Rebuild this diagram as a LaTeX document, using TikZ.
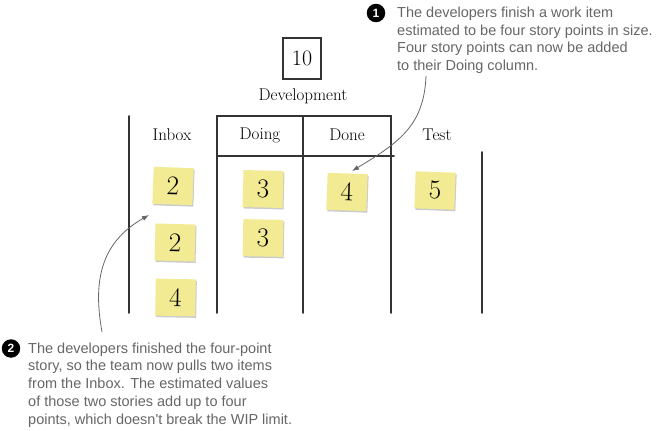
\documentclass[tikz,border=0pt]{standalone}
\usepackage{fontspec}
\newfontfamily\notefont{Liberation Sans}
\usetikzlibrary{arrows.meta,shadows}
\definecolor{ink}{HTML}{333333}
\definecolor{note}{HTML}{F2EB93}
\definecolor{annot}{HTML}{666666}
\begin{document}
\begin{tikzpicture}[x=1pt,y=-1pt,
 board/.style={draw=ink, line width=1.7pt, line cap=round},
 colhead/.style={font=\fontsize{17}{19}\selectfont, text=black, inner sep=0pt},
 sticky/.style={fill=note, minimum width=40pt, minimum height=37pt, inner sep=0pt,
   font=\fontsize{27}{29}\selectfont,
   drop shadow={shadow xshift=1pt, shadow yshift=-1.5pt, fill=black!45, opacity=0.45}},
 callout/.style={draw=annot, line width=0.8pt, -{Latex[length=7pt,width=5pt]}},
 num/.style={circle, fill=black, text=white, inner sep=0pt, minimum size=18.5pt,
   font=\notefont\bfseries\fontsize{12}{12}\selectfont},
 annottext/.style={text=annot, font=\notefont\fontsize{14.5}{17.8}\selectfont,
   align=left, anchor=north west, inner sep=0pt}
]
\useasboundingbox (0,0) rectangle (657,431);

% WIP limit box and title
\node[draw=ink, line width=1.7pt, minimum width=38pt, minimum height=41pt, inner sep=0pt,
  font=\fontsize{22}{24}\selectfont] (limit) at (302,58.5) {10};
\node[colhead] (dev) at (303,96) {Development};

% board lines
\coordinate (inboxT) at (129,116);
\coordinate (inboxB) at (129,313);
\coordinate (dlT) at (217,116);
\coordinate (dlB) at (217,313);
\coordinate (dmT) at (303,116);
\coordinate (dmB) at (303,313);
\coordinate (drT) at (391,116);
\coordinate (drB) at (391,313);
\coordinate (hL) at (217,156);
\coordinate (hR) at (394,156);
\coordinate (testT) at (482,152);
\coordinate (testB) at (482,313);
\draw[board] (inboxT) -- (inboxB);
\draw[board] (dlB) -- (dlT) -- (drT) -- (drB);
\draw[board] (dmT) -- (dmB);
\draw[board] (hL) -- (hR);
\draw[board] (testT) -- (testB);

% column headings
\node[colhead] (inbox) at (172,135) {Inbox};
\node[colhead] (doing) at (260,135) {Doing};
\node[colhead] (done) at (347,135) {Done};
\node[colhead] (test) at (437,135) {Test};

% sticky notes
\node[sticky, rotate=-2] (s1) at (173,186) {2};
\node[sticky, rotate=-1.5] (s2) at (175,242.5) {2};
\node[sticky, rotate=-1] (s3) at (175.5,297.5) {4};
\node[sticky, rotate=-1.5] (s4) at (263,189) {3};
\node[sticky, rotate=-1] (s5) at (263,238) {3};
\node[sticky, rotate=-2] (s6) at (347,192) {4};
\node[sticky, rotate=-2] (s7) at (435,190.5) {5};

% annotations
\node[num] (n1) at (376,13) {1};
\node[annottext] (t1) at (397,6.5) {The developers finish a work item\\estimated to be four story points in size.\\Four story points can now be added\\to their Doing column.};
\node[num] (n2) at (11,348.5) {2};
\node[annottext] (t2) at (28,342.4) {The developers finished the four-point\\story, so the team now pulls two items\\from the Inbox. The estimated values\\of those two stories add up to four\\points, which doesn't break the WIP limit.};

% callout arrows
\coordinate (a1s) at (426,76);
\coordinate (a1e) at (352,171);
\coordinate (a2s) at (102,332);
\coordinate (a2e) at (149,215);
\draw[callout] (a1s) .. controls (424,125) and (400,142) .. (a1e);
\draw[callout] (a2s) .. controls (93,282) and (100,243) .. (a2e);
\end{tikzpicture}
\end{document}
